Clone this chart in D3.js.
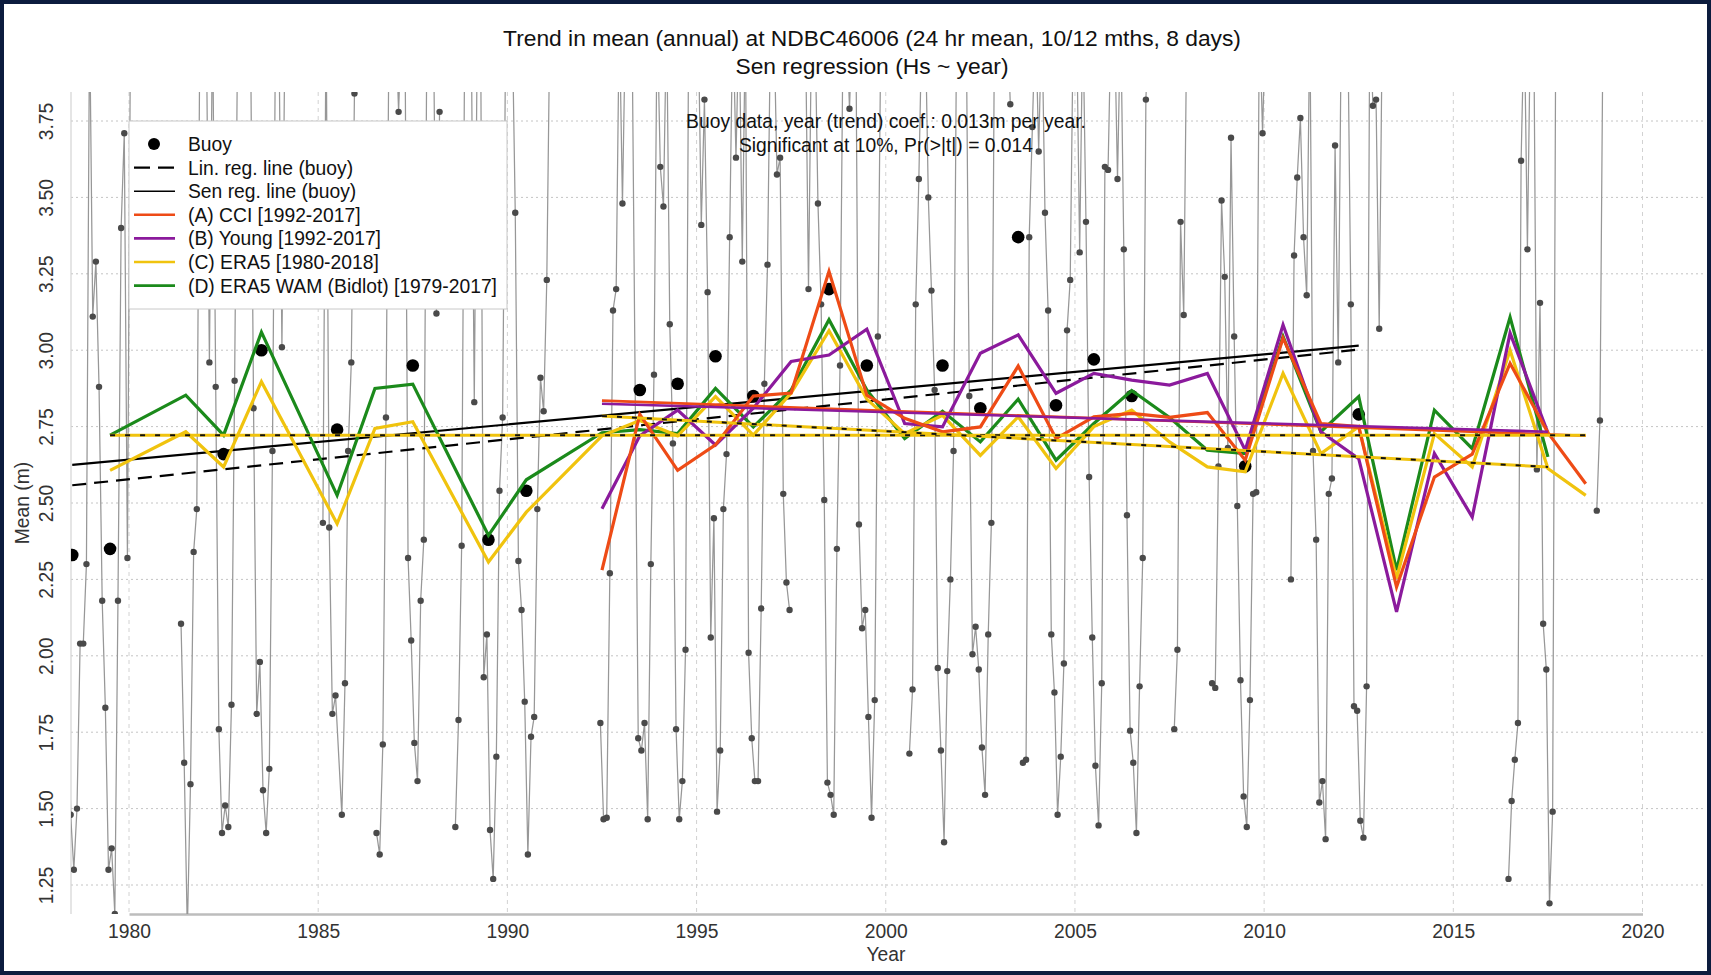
<!DOCTYPE html>
<html><head><meta charset="utf-8">
<script src="https://cdn.jsdelivr.net/npm/d3@7"></script>
<style>
html,body{margin:0;padding:0;background:#0c1c3e;}
svg{display:block;}
text{font-family:"Liberation Sans", Arial, Helvetica, sans-serif;}
</style></head><body>
<svg id="chart" width="1711" height="975"></svg>
<script>
// ---------------- DATA ----------------
const xTicks = [1980, 1985, 1990, 1995, 2000, 2005, 2010, 2015, 2020];
const yTicks = [1.25, 1.5, 1.75, 2.0, 2.25, 2.5, 2.75, 3.0, 3.25, 3.5, 3.75];
const titleLines = ["Trend in mean (annual) at NDBC46006 (24 hr mean, 10/12 mths, 8 days)", "Sen regression (Hs ~ year)"];
const noteLines = ["Buoy data, year (trend) coef.: 0.013m per year.", "Significant at 10%, Pr(>|t|) = 0.014"];

// monthly mean Hs (m) at the buoy, Jan..Dec; null = no record (values above 3.85 run off the plot)
const monthlyHs = [
  [1978, [null, null, null, null, 2.02, 1.48, 1.30, 1.50, 2.04, 2.04, 2.30, 4.1]],
  [1979, [3.11, 3.29, 2.88, 2.18, 1.83, 1.30, 1.37, 1.155, 2.18, 3.40, 3.71, 2.32]],
  [1980, [4.1, null, null, null, null, null, null, null, null, null, null, null]],
  [1981, [null, null, null, null, 2.105, 1.65, 1.10, 1.58, 2.34, 2.48, 4.1, 4.1]],
  [1982, [4.1, 2.96, 4.1, 2.88, 1.76, 1.42, 1.51, 1.44, 1.84, 2.90, 4.1, 4.1]],
  [1983, [4.1, 4.1, 4.1, 2.81, 1.81, 1.98, 1.56, 1.42, 1.63, 2.67, 4.1, 4.1]],
  [1984, [3.01, 4.1, null, null, null, null, null, null, null, null, null, null]],
  [1985, [null, 2.435, 4.1, 2.42, 1.81, 1.87, null, 1.48, 1.91, 2.67, 2.96, 3.84]],
  [1986, [null, null, null, null, null, null, 1.42, 1.35, 1.71, 2.78, 4.1, 4.1]],
  [1987, [4.1, 3.78, 4.1, 4.1, 2.32, 2.05, 1.715, 1.59, 2.18, 2.38, 4.1, 4.1]],
  [1988, [4.1, 3.12, 3.78, null, null, null, null, 1.44, 1.79, 2.36, 4.1, 4.1]],
  [1989, [4.1, 2.83, 4.1, 4.1, 1.93, 2.07, 1.43, 1.27, 1.67, 2.54, 2.78, 4.1]],
  [1990, [4.1, 4.1, 3.45, 2.31, 2.15, 1.85, 1.35, 1.735, 1.80, 2.48, 2.91, 2.80]],
  [1991, [3.23, 4.1, null, null, null, null, null, null, null, null, null, null]],
  [1992, [null, null, null, null, null, 1.78, 1.465, 1.47, 2.27, 3.13, 3.20, 4.1]],
  [1993, [3.48, 4.1, 4.1, 4.1, null, 1.73, 1.69, 1.78, 1.465, 2.30, 2.92, 4.1]],
  [1994, [3.60, 3.47, 4.1, 3.085, 2.695, 1.76, 1.465, 1.59, 2.02, 4.1, 4.1, 4.1]],
  [1995, [4.1, 3.41, 3.82, 3.19, 2.06, 2.45, 1.49, 1.69, 2.48, 2.66, 3.37, 4.1]],
  [1996, [3.63, 4.1, 3.29, 4.1, 2.01, 1.73, 1.59, 1.59, 2.155, 2.89, 3.28, 4.1]],
  [1997, [4.1, 3.575, 3.63, 2.53, 2.24, 2.15, null, null, null, null, 4.1, 3.20]],
  [1998, [4.1, 4.1, 3.48, 3.15, 2.51, 1.585, 1.545, 1.48, 2.35, 2.95, 4.1, 4.1]],
  [1999, [3.79, 4.1, 4.1, 2.43, 2.09, 2.15, 1.80, 1.47, 1.855, 3.045, 4.1, 4.1]],
  [2000, [null, null, null, null, null, null, null, 1.68, 1.89, 3.15, 3.56, 4.1]],
  [2001, [4.1, 3.50, 3.195, 2.87, 1.96, 1.69, 1.39, 1.95, 2.25, 2.67, 4.1, 4.1]],
  [2002, [4.1, 4.1, 2.85, 2.005, 2.095, 1.955, 1.70, 1.545, 2.07, 2.435, 4.1, 4.1]],
  [2003, [4.1, 4.1, 4.1, 3.805, null, null, null, 1.65, 1.66, 3.37, 3.73, 4.1]],
  [2004, [3.65, 4.1, 3.45, 3.13, 2.07, 1.88, 1.48, 1.67, 1.975, 3.065, 3.23, 4.1]],
  [2005, [4.1, 3.32, 4.1, 3.42, 2.585, 2.06, 1.64, 1.445, 1.91, 3.60, 3.59, 4.1]],
  [2006, [4.1, 3.56, 4.1, 3.33, 2.46, 1.755, 1.65, 1.42, 1.90, 2.32, 3.82, 4.1]],
  [2007, [4.1, null, null, null, null, null, null, 1.76, 2.02, 3.42, 3.115, 4.1]],
  [2008, [4.1, null, null, null, null, null, null, 1.91, 1.895, 2.62, 3.49, 3.24]],
  [2009, [2.68, 3.695, 3.045, 2.49, 1.92, 1.54, 1.44, 1.855, 2.53, 2.535, 4.1, 3.71]],
  [2010, [4.1, null, null, null, null, null, null, null, 2.25, 3.31, 3.565, 3.76]],
  [2011, [3.37, 3.18, 4.1, 2.67, 2.38, 1.52, 1.59, 1.40, 2.53, 2.58, 3.67, 2.96]],
  [2012, [4.1, 4.1, 4.1, 3.15, 1.835, 1.82, 1.46, 1.405, 1.90, 4.1, 3.80, 3.82]],
  [2013, [3.07, 4.1, null, null, null, null, null, null, null, null, null, null]],
  [2016, [null, null, null, null, null, 1.27, 1.525, 1.66, 1.78, 3.62, 4.1, 3.33]],
  [2017, [4.1, 4.1, 2.61, 3.155, 2.105, 1.955, 1.19, 1.49, 4.1, null, null, null]],
  [2018, [null, null, null, null, null, null, null, null, null, 2.475, 2.77, 4.1]]
];

// annual buoy means
const buoyYears = [1978.5, 1979.5, 1982.5, 1983.5, 1985.5, 1987.5, 1989.5, 1990.5, 1993.5, 1994.5, 1995.5, 1996.5, 1998.5, 1999.5, 2001.5, 2002.5, 2003.5, 2004.5, 2005.5, 2006.5, 2009.5, 2012.5];
const buoyMeans = [2.33, 2.35, 2.66, 3.00, 2.74, 2.95, 2.38, 2.54, 2.87, 2.89, 2.98, 2.85, 3.20, 2.95, 2.95, 2.81, 3.37, 2.82, 2.97, 2.85, 2.62, 2.79];

// model annual means
const era5Years = [1979.5, 1981.5, 1982.5, 1983.5, 1985.5, 1986.5, 1987.5, 1989.5, 1990.5, 1992.5, 1993.5, 1994.5, 1995.5, 1996.5, 1997.5, 1998.5, 1999.5, 2000.5, 2001.5, 2002.5, 2003.5, 2004.5, 2005.5, 2006.5, 2007.5, 2008.5, 2009.5, 2010.5, 2011.5, 2012.5, 2013.5, 2014.5, 2015.5, 2016.5, 2017.5, 2018.5];
const era5Hs = [2.607, 2.733, 2.618, 2.897, 2.432, 2.744, 2.766, 2.307, 2.47, 2.72, 2.77, 2.72, 2.848, 2.722, 2.86, 3.064, 2.84, 2.727, 2.787, 2.656, 2.782, 2.613, 2.75, 2.804, 2.70, 2.618, 2.602, 2.924, 2.662, 2.75, 2.253, 2.727, 2.618, 3.0, 2.613, 2.525];
const wamYears = [1979.5, 1981.5, 1982.5, 1983.5, 1985.5, 1986.5, 1987.5, 1989.5, 1990.5, 1992.5, 1993.5, 1994.5, 1995.5, 1996.5, 1997.5, 1998.5, 1999.5, 2000.5, 2001.5, 2002.5, 2003.5, 2004.5, 2005.5, 2006.5, 2007.5, 2008.5, 2009.5, 2010.5, 2011.5, 2012.5, 2013.5, 2014.5, 2015.5, 2016.5, 2017.5];
const wamHs = [2.722, 2.853, 2.722, 3.059, 2.525, 2.875, 2.889, 2.394, 2.576, 2.73, 2.74, 2.727, 2.875, 2.749, 2.87, 3.10, 2.87, 2.711, 2.80, 2.70, 2.84, 2.64, 2.76, 2.868, 2.78, 2.673, 2.662, 3.045, 2.733, 2.848, 2.28, 2.804, 2.678, 3.108, 2.651];
const cciYears = [1992.5, 1993.5, 1994.5, 1995.5, 1996.5, 1997.5, 1998.5, 1999.5, 2000.5, 2001.5, 2002.5, 2003.5, 2004.5, 2005.5, 2006.5, 2007.5, 2008.5, 2009.5, 2010.5, 2011.5, 2012.5, 2013.5, 2014.5, 2015.5, 2016.5, 2017.5, 2018.5];
const cciHs = [2.28, 2.79, 2.607, 2.69, 2.85, 2.86, 3.258, 2.853, 2.777, 2.733, 2.749, 2.948, 2.711, 2.782, 2.793, 2.78, 2.796, 2.64, 3.04, 2.76, 2.75, 2.225, 2.585, 2.66, 2.957, 2.73, 2.563];
const youngYears = [1992.5, 1993.5, 1994.5, 1995.5, 1996.5, 1997.5, 1998.5, 1999.5, 2000.5, 2001.5, 2002.5, 2003.5, 2004.5, 2005.5, 2006.5, 2007.5, 2008.5, 2009.5, 2010.5, 2011.5, 2012.5, 2013.5, 2014.5, 2015.5, 2016.5, 2017.5];
const youngHs = [2.481, 2.72, 2.804, 2.69, 2.81, 2.963, 2.984, 3.069, 2.76, 2.749, 2.99, 3.05, 2.859, 2.924, 2.902, 2.886, 2.924, 2.673, 3.083, 2.733, 2.645, 2.144, 2.662, 2.454, 3.056, 2.73];

// fitted trend lines: [startYear, endYear], [startValue, endValue]
const linBuoyYears = [1978.5, 2012.5], linBuoyHs = [2.558, 3.002];
const senBuoyYears = [1978.5, 2012.5], senBuoyHs = [2.625, 3.015];
const era5FlatYears = [1979.5, 2018.5], era5FlatHs = [2.722, 2.722];
const era5SubYears = [1992.5, 2017.5], era5SubHs = [2.785, 2.618];
const cciTrendYears = [1992.5, 2018.5], cciTrendHs = [2.835, 2.72];
const youngTrendYears = [1992.5, 2017.5], youngTrendHs = [2.825, 2.733];

const legendLabels = ["Buoy", "Lin. reg. line (buoy)", "Sen reg. line (buoy)", "(A) CCI [1992-2017]", "(B) Young [1992-2017]", "(C) ERA5 [1980-2018]", "(D) ERA5 WAM (Bidlot) [1979-2017]"];

// ---------------- DRAW ----------------
const W = 1711, H = 975;
const FS = 19.3, FT = 22.8;
const COL = {cci: "#ee4b16", young: "#8b1a9c", era5: "#f0c30e", wam: "#1b8a1b"};
const svg = d3.select("#chart");
svg.append("rect").attr("width", W).attr("height", H).attr("fill", "#0c1c3e");
svg.append("rect").attr("x", 4).attr("y", 4).attr("width", W - 8).attr("height", H - 8).attr("fill", "#ffffff");

const P = {left: 71, right: 1705, top: 92, bottom: 914};
const x = d3.scaleLinear().domain([1980, 2020]).range([129, 1642.5]);
const y = d3.scaleLinear().domain([1.25, 3.75]).range([885, 121]);

svg.append("clipPath").attr("id", "clip").append("rect")
  .attr("x", P.left).attr("y", P.top).attr("width", P.right - P.left).attr("height", P.bottom - P.top);

// grid
const grid = svg.append("g");
grid.selectAll(".hg").data(yTicks).join("line")
  .attr("x1", P.left).attr("x2", P.right).attr("y1", d => y(d)).attr("y2", d => y(d))
  .attr("stroke", "#c4c4c4").attr("stroke-width", 1).attr("stroke-dasharray", "2,3");
grid.selectAll(".vg").data(xTicks).join("line")
  .attr("x1", d => x(d)).attr("x2", d => x(d)).attr("y1", P.top).attr("y2", P.bottom)
  .attr("stroke", "#d2d2d2").attr("stroke-width", 1).attr("stroke-dasharray", "4,4");
// left frame line
grid.append("line").attr("x1", P.left).attr("x2", P.left).attr("y1", P.top).attr("y2", P.bottom)
  .attr("stroke", "#d4d4d4").attr("stroke-width", 1.2);

// axes
const xAxis = svg.append("g").attr("transform", `translate(0,${P.bottom})`)
  .call(d3.axisBottom(x).tickValues(xTicks).tickFormat(d3.format("d")).tickSize(0).tickPadding(10));
xAxis.select(".domain").attr("stroke", "#bdbdbd").attr("stroke-width", 2.5);
xAxis.selectAll("text").attr("font-size", FS).attr("fill", "#333").attr("font-family", "Liberation Sans, Arial, sans-serif");

const yAxis = svg.append("g").attr("transform", `translate(${P.left},0)`)
  .call(d3.axisLeft(y).tickValues(yTicks).tickFormat(d3.format(".2f")).tickSize(0));
yAxis.select(".domain").remove();
yAxis.selectAll("text").attr("x", null).attr("dy", null).attr("text-anchor", "middle")
  .attr("transform", "translate(-18,0) rotate(-90)")
  .attr("font-size", FS).attr("fill", "#333").attr("font-family", "Liberation Sans, Arial, sans-serif");

svg.append("text").attr("x", 886).attr("y", 961).attr("text-anchor", "middle")
  .attr("font-size", FS).attr("fill", "#333").text("Year");
svg.append("text").attr("transform", "translate(29,503) rotate(-90)").attr("text-anchor", "middle")
  .attr("font-size", FS).attr("fill", "#333").text("Mean (m)");

// titles
svg.append("text").attr("x", 872).attr("y", 46).attr("text-anchor", "middle")
  .attr("font-size", FT).attr("fill", "#111").text(titleLines[0]);
svg.append("text").attr("x", 872).attr("y", 73.5).attr("text-anchor", "middle")
  .attr("font-size", FT).attr("fill", "#111").text(titleLines[1]);

const plotG = svg.append("g").attr("clip-path", "url(#clip)");

// monthly buoy series
const monthlyPts = [];
monthlyHs.forEach(([yr, vals]) => vals.forEach((v, m) => {
  if (v !== null) monthlyPts.push({idx: yr * 12 + m, t: yr + (m + 0.5) / 12, v});
}));
const segments = [];
monthlyPts.forEach((p, i) => {
  if (i === 0 || p.idx - monthlyPts[i - 1].idx > 3) segments.push([]);
  segments[segments.length - 1].push(p);
});
const mLine = d3.line().x(d => x(d.t)).y(d => y(d.v));
plotG.selectAll(".mseg").data(segments).join("path")
  .attr("d", mLine).attr("fill", "none").attr("stroke", "#979797").attr("stroke-width", 1.25);
plotG.selectAll(".mdot").data(monthlyPts).join("circle")
  .attr("cx", d => x(d.t)).attr("cy", d => y(d.v)).attr("r", 3.2).attr("fill", "#4a4a4a");

// buoy annual dots
plotG.selectAll(".bdot").data(buoyYears.map((t, i) => ({t, v: buoyMeans[i]}))).join("circle")
  .attr("cx", d => x(d.t)).attr("cy", d => y(d.v)).attr("r", 6.3).attr("fill", "#000");

const pairLine = d3.line().x(d => x(d[0])).y(d => y(d[1]));
const zip = (a, b) => a.map((t, i) => [t, b[i]]);

// buoy trends
plotG.append("path").attr("d", pairLine(zip(senBuoyYears, senBuoyHs)))
  .attr("stroke", "#000").attr("stroke-width", 2.2).attr("fill", "none");
plotG.append("path").attr("d", pairLine(zip(linBuoyYears, linBuoyHs)))
  .attr("stroke", "#000").attr("stroke-width", 2.2).attr("fill", "none").attr("stroke-dasharray", "14,8");

// model series
const series = [
  [wamYears, wamHs, COL.wam],
  [era5Years, era5Hs, COL.era5],
  [youngYears, youngHs, COL.young],
  [cciYears, cciHs, COL.cci]
];
series.forEach(([yrs, vals, c]) => {
  plotG.append("path").attr("d", pairLine(zip(yrs, vals)))
    .attr("stroke", c).attr("stroke-width", 3.2).attr("fill", "none").attr("stroke-linejoin", "miter");
});

// model trends
[[cciTrendYears, cciTrendHs, COL.cci], [youngTrendYears, youngTrendHs, COL.young]].forEach(([yrs, vals, c]) => {
  plotG.append("path").attr("d", pairLine(zip(yrs, vals)))
    .attr("stroke", c).attr("stroke-width", 2.6).attr("fill", "none");
});
[[era5FlatYears, era5FlatHs], [era5SubYears, era5SubHs]].forEach(([yrs, vals]) => {
  plotG.append("path").attr("d", pairLine(zip(yrs, vals)))
    .attr("stroke", COL.era5).attr("stroke-width", 3).attr("fill", "none");
  plotG.append("path").attr("d", pairLine(zip(yrs, vals)))
    .attr("stroke", "#111").attr("stroke-width", 2).attr("fill", "none").attr("stroke-dasharray", "5,10");
});

// annotation
noteLines.forEach((t, i) => {
  svg.append("text").attr("x", 886).attr("y", 128 + i * 24).attr("text-anchor", "middle")
    .attr("font-size", FS).attr("fill", "#111").text(t);
});

// legend
const lg = svg.append("g");
lg.append("rect").attr("x", 129).attr("y", 121).attr("width", 378).attr("height", 188)
  .attr("fill", "#fff").attr("stroke", "#c8c8c8").attr("stroke-width", 1);
const legendStyles = [
  {type: "dot"},
  {type: "line", c: "#000", w: 2.2, dash: "16,8"},
  {type: "line", c: "#000", w: 1.6},
  {type: "line", c: COL.cci, w: 2.6},
  {type: "line", c: COL.young, w: 2.6},
  {type: "line", c: COL.era5, w: 2.6},
  {type: "line", c: COL.wam, w: 2.6}
];
legendLabels.forEach((lab, i) => {
  const cy = 144 + i * 23.6;
  const s = legendStyles[i];
  if (s.type === "dot") {
    lg.append("circle").attr("cx", 154).attr("cy", cy).attr("r", 6).attr("fill", "#000");
  } else {
    lg.append("line").attr("x1", 134).attr("x2", 175).attr("y1", cy).attr("y2", cy)
      .attr("stroke", s.c).attr("stroke-width", s.w).attr("stroke-dasharray", s.dash || null);
  }
  lg.append("text").attr("x", 188).attr("y", cy + 7).attr("font-size", FS).attr("fill", "#111").text(lab);
});
</script></body></html>
